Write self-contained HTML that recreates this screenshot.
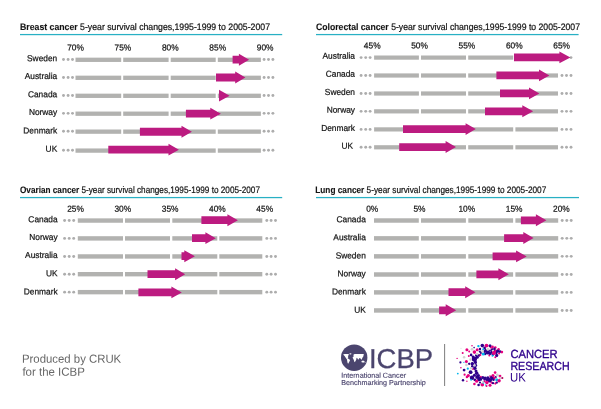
<!DOCTYPE html><html><head><meta charset="utf-8"><title>ICBP survival changes</title><style>html,body{margin:0;padding:0;background:#fff}body{width:601px;height:409px;overflow:hidden;font-family:"Liberation Sans",sans-serif}svg{display:block;will-change:transform;transform:translateZ(0)}</style></head><body><svg width="601" height="409" viewBox="0 0 601 409" font-family="Liberation Sans, sans-serif">
<rect width="601" height="409" fill="#fff"/>
<text transform="translate(20.00,29.60) rotate(0.03)" font-size="9.4" fill="#141414" textLength="250" lengthAdjust="spacingAndGlyphs"><tspan font-weight="bold" stroke="#141414" stroke-width="0.12">Breast cancer</tspan><tspan stroke="#141414" stroke-width="0.22"> 5-year survival changes,1995-1999 to 2005-2007</tspan></text>
<rect x="20" y="33.95" width="262.2" height="1.25" fill="#28b0c4"/>
<text transform="translate(75.50,50.60) rotate(0.03) scale(0.9543,1)" font-size="8.75" fill="#141414" text-anchor="middle" stroke="#141414" stroke-width="0.22">70%</text>
<text transform="translate(122.90,50.60) rotate(0.03) scale(0.9543,1)" font-size="8.75" fill="#141414" text-anchor="middle" stroke="#141414" stroke-width="0.22">75%</text>
<text transform="translate(170.30,50.60) rotate(0.03) scale(0.9543,1)" font-size="8.75" fill="#141414" text-anchor="middle" stroke="#141414" stroke-width="0.22">80%</text>
<text transform="translate(217.70,50.60) rotate(0.03) scale(0.9543,1)" font-size="8.75" fill="#141414" text-anchor="middle" stroke="#141414" stroke-width="0.22">85%</text>
<text transform="translate(265.10,50.60) rotate(0.03) scale(0.9543,1)" font-size="8.75" fill="#141414" text-anchor="middle" stroke="#141414" stroke-width="0.22">90%</text>
<text transform="translate(57.20,61.20) rotate(0.03) scale(0.9543,1)" font-size="8.75" fill="#141414" text-anchor="end" stroke="#141414" stroke-width="0.22">Sweden</text>
<rect x="75.5" y="57.65" width="45.70" height="4.3" fill="#b2b2b0"/>
<rect x="123.2" y="57.65" width="45.40" height="4.3" fill="#b2b2b0"/>
<rect x="170.7" y="57.65" width="45.00" height="4.3" fill="#b2b2b0"/>
<rect x="217.8" y="57.65" width="43.10" height="4.3" fill="#b2b2b0"/>
<circle cx="63.5" cy="59.45" r="1.45" fill="#adadad"/>
<circle cx="68.1" cy="59.45" r="1.45" fill="#adadad"/>
<circle cx="72.5" cy="59.45" r="1.45" fill="#adadad"/>
<circle cx="264.1" cy="59.45" r="1.45" fill="#adadad"/>
<circle cx="268.5" cy="59.45" r="1.45" fill="#adadad"/>
<circle cx="272.9" cy="59.45" r="1.45" fill="#adadad"/>
<path d="M232.6 55.80L238.9 55.80L238.9 53.75L249.1 59.7L238.9 65.65L238.9 63.60L232.6 63.60Z" fill="#bc1b80"/>
<text transform="translate(57.20,79.10) rotate(0.03) scale(0.9543,1)" font-size="8.75" fill="#141414" text-anchor="end" stroke="#141414" stroke-width="0.22">Australia</text>
<rect x="75.5" y="75.65" width="45.70" height="4.3" fill="#b2b2b0"/>
<rect x="123.2" y="75.65" width="45.40" height="4.3" fill="#b2b2b0"/>
<rect x="170.7" y="75.65" width="45.00" height="4.3" fill="#b2b2b0"/>
<rect x="217.8" y="75.65" width="43.10" height="4.3" fill="#b2b2b0"/>
<circle cx="63.5" cy="77.45" r="1.45" fill="#adadad"/>
<circle cx="68.1" cy="77.45" r="1.45" fill="#adadad"/>
<circle cx="72.5" cy="77.45" r="1.45" fill="#adadad"/>
<circle cx="264.1" cy="77.45" r="1.45" fill="#adadad"/>
<circle cx="268.5" cy="77.45" r="1.45" fill="#adadad"/>
<circle cx="272.9" cy="77.45" r="1.45" fill="#adadad"/>
<path d="M216 73.60L235.2 73.60L235.2 71.55L245.4 77.5L235.2 83.45L235.2 81.40L216 81.40Z" fill="#bc1b80"/>
<text transform="translate(57.20,97.30) rotate(0.03) scale(0.9543,1)" font-size="8.75" fill="#141414" text-anchor="end" stroke="#141414" stroke-width="0.22">Canada</text>
<rect x="75.5" y="93.65" width="45.70" height="4.3" fill="#b2b2b0"/>
<rect x="123.2" y="93.65" width="45.40" height="4.3" fill="#b2b2b0"/>
<rect x="170.7" y="93.65" width="45.00" height="4.3" fill="#b2b2b0"/>
<rect x="217.8" y="93.65" width="43.10" height="4.3" fill="#b2b2b0"/>
<circle cx="63.5" cy="95.45" r="1.45" fill="#adadad"/>
<circle cx="68.1" cy="95.45" r="1.45" fill="#adadad"/>
<circle cx="72.5" cy="95.45" r="1.45" fill="#adadad"/>
<circle cx="264.1" cy="95.45" r="1.45" fill="#adadad"/>
<circle cx="268.5" cy="95.45" r="1.45" fill="#adadad"/>
<circle cx="272.9" cy="95.45" r="1.45" fill="#adadad"/>
<path d="M219 91.75L219 91.75L219 89.70L229.6 95.65L219 101.60L219 99.55L219 99.55Z" fill="#bc1b80"/>
<text transform="translate(57.20,114.90) rotate(0.03) scale(0.9543,1)" font-size="8.75" fill="#141414" text-anchor="end" stroke="#141414" stroke-width="0.22">Norway</text>
<rect x="75.5" y="111.55" width="45.70" height="4.3" fill="#b2b2b0"/>
<rect x="123.2" y="111.55" width="45.40" height="4.3" fill="#b2b2b0"/>
<rect x="170.7" y="111.55" width="45.00" height="4.3" fill="#b2b2b0"/>
<rect x="217.8" y="111.55" width="43.10" height="4.3" fill="#b2b2b0"/>
<circle cx="63.5" cy="113.35" r="1.45" fill="#adadad"/>
<circle cx="68.1" cy="113.35" r="1.45" fill="#adadad"/>
<circle cx="72.5" cy="113.35" r="1.45" fill="#adadad"/>
<circle cx="264.1" cy="113.35" r="1.45" fill="#adadad"/>
<circle cx="268.5" cy="113.35" r="1.45" fill="#adadad"/>
<circle cx="272.9" cy="113.35" r="1.45" fill="#adadad"/>
<path d="M185.9 109.75L210.3 109.75L210.3 107.70L220.9 113.65L210.3 119.60L210.3 117.55L185.9 117.55Z" fill="#bc1b80"/>
<text transform="translate(57.20,133.50) rotate(0.03) scale(0.9543,1)" font-size="8.75" fill="#141414" text-anchor="end" stroke="#141414" stroke-width="0.22">Denmark</text>
<rect x="75.5" y="129.50" width="45.70" height="4.3" fill="#b2b2b0"/>
<rect x="123.2" y="129.50" width="45.40" height="4.3" fill="#b2b2b0"/>
<rect x="170.7" y="129.50" width="45.00" height="4.3" fill="#b2b2b0"/>
<rect x="217.8" y="129.50" width="43.10" height="4.3" fill="#b2b2b0"/>
<circle cx="63.5" cy="131.30" r="1.45" fill="#adadad"/>
<circle cx="68.1" cy="131.30" r="1.45" fill="#adadad"/>
<circle cx="72.5" cy="131.30" r="1.45" fill="#adadad"/>
<circle cx="264.1" cy="131.30" r="1.45" fill="#adadad"/>
<circle cx="268.5" cy="131.30" r="1.45" fill="#adadad"/>
<circle cx="272.9" cy="131.30" r="1.45" fill="#adadad"/>
<path d="M139.9 127.85L181.5 127.85L181.5 125.80L191.9 131.75L181.5 137.70L181.5 135.65L139.9 135.65Z" fill="#bc1b80"/>
<text transform="translate(57.20,151.65) rotate(0.03) scale(0.9543,1)" font-size="8.75" fill="#141414" text-anchor="end" stroke="#141414" stroke-width="0.22">UK</text>
<rect x="75.5" y="148.45" width="45.70" height="4.3" fill="#b2b2b0"/>
<rect x="123.2" y="148.45" width="45.40" height="4.3" fill="#b2b2b0"/>
<rect x="170.7" y="148.45" width="45.00" height="4.3" fill="#b2b2b0"/>
<rect x="217.8" y="148.45" width="43.10" height="4.3" fill="#b2b2b0"/>
<circle cx="63.5" cy="150.25" r="1.45" fill="#adadad"/>
<circle cx="68.1" cy="150.25" r="1.45" fill="#adadad"/>
<circle cx="72.5" cy="150.25" r="1.45" fill="#adadad"/>
<circle cx="264.1" cy="150.25" r="1.45" fill="#adadad"/>
<circle cx="268.5" cy="150.25" r="1.45" fill="#adadad"/>
<circle cx="272.9" cy="150.25" r="1.45" fill="#adadad"/>
<path d="M108.3 145.75L168.5 145.75L168.5 143.70L178.9 149.65L168.5 155.60L168.5 153.55L108.3 153.55Z" fill="#bc1b80"/>
<text transform="translate(316.00,29.60) rotate(0.03)" font-size="9.4" fill="#141414" textLength="264" lengthAdjust="spacingAndGlyphs"><tspan font-weight="bold" stroke="#141414" stroke-width="0.12">Colorectal cancer</tspan><tspan stroke="#141414" stroke-width="0.22"> 5-year survival changes,1995-1999 to 2005-2007</tspan></text>
<rect x="316" y="33.95" width="262.6" height="1.25" fill="#28b0c4"/>
<text transform="translate(372.20,48.50) rotate(0.03) scale(0.9543,1)" font-size="8.75" fill="#141414" text-anchor="middle" stroke="#141414" stroke-width="0.22">45%</text>
<text transform="translate(419.55,48.50) rotate(0.03) scale(0.9543,1)" font-size="8.75" fill="#141414" text-anchor="middle" stroke="#141414" stroke-width="0.22">50%</text>
<text transform="translate(466.90,48.50) rotate(0.03) scale(0.9543,1)" font-size="8.75" fill="#141414" text-anchor="middle" stroke="#141414" stroke-width="0.22">55%</text>
<text transform="translate(514.25,48.50) rotate(0.03) scale(0.9543,1)" font-size="8.75" fill="#141414" text-anchor="middle" stroke="#141414" stroke-width="0.22">60%</text>
<text transform="translate(561.60,48.50) rotate(0.03) scale(0.9543,1)" font-size="8.75" fill="#141414" text-anchor="middle" stroke="#141414" stroke-width="0.22">65%</text>
<text transform="translate(355.00,58.80) rotate(0.03) scale(0.9543,1)" font-size="8.75" fill="#141414" text-anchor="end" stroke="#141414" stroke-width="0.22">Australia</text>
<rect x="374.1" y="55.50" width="44.80" height="4.2" fill="#b2b2b0"/>
<rect x="421" y="55.50" width="45.00" height="4.2" fill="#b2b2b0"/>
<rect x="468.2" y="55.50" width="45.00" height="4.2" fill="#b2b2b0"/>
<rect x="515.4" y="55.50" width="42.60" height="4.2" fill="#b2b2b0"/>
<circle cx="361.1" cy="57.60" r="1.45" fill="#adadad"/>
<circle cx="365.7" cy="57.60" r="1.45" fill="#adadad"/>
<circle cx="370.1" cy="57.60" r="1.45" fill="#adadad"/>
<circle cx="562" cy="57.60" r="1.45" fill="#adadad"/>
<circle cx="566.5" cy="57.60" r="1.45" fill="#adadad"/>
<circle cx="571" cy="57.60" r="1.45" fill="#adadad"/>
<path d="M514 53.50L559.4 53.50L559.4 51.45L570.4 57.4L559.4 63.35L559.4 61.30L514 61.30Z" fill="#bc1b80"/>
<text transform="translate(355.00,76.70) rotate(0.03) scale(0.9543,1)" font-size="8.75" fill="#141414" text-anchor="end" stroke="#141414" stroke-width="0.22">Canada</text>
<rect x="374.1" y="73.40" width="44.80" height="4.2" fill="#b2b2b0"/>
<rect x="421" y="73.40" width="45.00" height="4.2" fill="#b2b2b0"/>
<rect x="468.2" y="73.40" width="45.00" height="4.2" fill="#b2b2b0"/>
<rect x="515.4" y="73.40" width="42.60" height="4.2" fill="#b2b2b0"/>
<circle cx="361.1" cy="75.50" r="1.45" fill="#adadad"/>
<circle cx="365.7" cy="75.50" r="1.45" fill="#adadad"/>
<circle cx="370.1" cy="75.50" r="1.45" fill="#adadad"/>
<circle cx="562" cy="75.50" r="1.45" fill="#adadad"/>
<circle cx="566.5" cy="75.50" r="1.45" fill="#adadad"/>
<circle cx="571" cy="75.50" r="1.45" fill="#adadad"/>
<path d="M496.4 71.50L539 71.50L539 69.45L549.4 75.4L539 81.35L539 79.30L496.4 79.30Z" fill="#bc1b80"/>
<text transform="translate(355.00,94.95) rotate(0.03) scale(0.9543,1)" font-size="8.75" fill="#141414" text-anchor="end" stroke="#141414" stroke-width="0.22">Sweden</text>
<rect x="374.1" y="91.40" width="44.80" height="4.2" fill="#b2b2b0"/>
<rect x="421" y="91.40" width="45.00" height="4.2" fill="#b2b2b0"/>
<rect x="468.2" y="91.40" width="45.00" height="4.2" fill="#b2b2b0"/>
<rect x="515.4" y="91.40" width="42.60" height="4.2" fill="#b2b2b0"/>
<circle cx="361.1" cy="93.50" r="1.45" fill="#adadad"/>
<circle cx="365.7" cy="93.50" r="1.45" fill="#adadad"/>
<circle cx="370.1" cy="93.50" r="1.45" fill="#adadad"/>
<circle cx="562" cy="93.50" r="1.45" fill="#adadad"/>
<circle cx="566.5" cy="93.50" r="1.45" fill="#adadad"/>
<circle cx="571" cy="93.50" r="1.45" fill="#adadad"/>
<path d="M500 89.50L529 89.50L529 87.45L539.4 93.4L529 99.35L529 97.30L500 97.30Z" fill="#bc1b80"/>
<text transform="translate(355.00,112.70) rotate(0.03) scale(0.9543,1)" font-size="8.75" fill="#141414" text-anchor="end" stroke="#141414" stroke-width="0.22">Norway</text>
<rect x="374.1" y="109.25" width="44.80" height="4.2" fill="#b2b2b0"/>
<rect x="421" y="109.25" width="45.00" height="4.2" fill="#b2b2b0"/>
<rect x="468.2" y="109.25" width="45.00" height="4.2" fill="#b2b2b0"/>
<rect x="515.4" y="109.25" width="42.60" height="4.2" fill="#b2b2b0"/>
<circle cx="361.1" cy="111.35" r="1.45" fill="#adadad"/>
<circle cx="365.7" cy="111.35" r="1.45" fill="#adadad"/>
<circle cx="370.1" cy="111.35" r="1.45" fill="#adadad"/>
<circle cx="562" cy="111.35" r="1.45" fill="#adadad"/>
<circle cx="566.5" cy="111.35" r="1.45" fill="#adadad"/>
<circle cx="571" cy="111.35" r="1.45" fill="#adadad"/>
<path d="M485 107.40L522.3 107.40L522.3 105.35L533.2 111.3L522.3 117.25L522.3 115.20L485 115.20Z" fill="#bc1b80"/>
<text transform="translate(355.00,130.95) rotate(0.03) scale(0.9543,1)" font-size="8.75" fill="#141414" text-anchor="end" stroke="#141414" stroke-width="0.22">Denmark</text>
<rect x="374.1" y="127.30" width="44.80" height="4.2" fill="#b2b2b0"/>
<rect x="421" y="127.30" width="45.00" height="4.2" fill="#b2b2b0"/>
<rect x="468.2" y="127.30" width="45.00" height="4.2" fill="#b2b2b0"/>
<rect x="515.4" y="127.30" width="42.60" height="4.2" fill="#b2b2b0"/>
<circle cx="361.1" cy="129.40" r="1.45" fill="#adadad"/>
<circle cx="365.7" cy="129.40" r="1.45" fill="#adadad"/>
<circle cx="370.1" cy="129.40" r="1.45" fill="#adadad"/>
<circle cx="562" cy="129.40" r="1.45" fill="#adadad"/>
<circle cx="566.5" cy="129.40" r="1.45" fill="#adadad"/>
<circle cx="571" cy="129.40" r="1.45" fill="#adadad"/>
<path d="M403 125.20L465.6 125.20L465.6 123.15L475.8 129.1L465.6 135.05L465.6 133.00L403 133.00Z" fill="#bc1b80"/>
<text transform="translate(353.00,148.70) rotate(0.03) scale(0.9543,1)" font-size="8.75" fill="#141414" text-anchor="end" stroke="#141414" stroke-width="0.22">UK</text>
<rect x="374.1" y="145.20" width="44.80" height="4.2" fill="#b2b2b0"/>
<rect x="421" y="145.20" width="45.00" height="4.2" fill="#b2b2b0"/>
<rect x="468.2" y="145.20" width="45.00" height="4.2" fill="#b2b2b0"/>
<rect x="515.4" y="145.20" width="42.60" height="4.2" fill="#b2b2b0"/>
<circle cx="361.1" cy="147.30" r="1.45" fill="#adadad"/>
<circle cx="365.7" cy="147.30" r="1.45" fill="#adadad"/>
<circle cx="370.1" cy="147.30" r="1.45" fill="#adadad"/>
<circle cx="562" cy="147.30" r="1.45" fill="#adadad"/>
<circle cx="566.5" cy="147.30" r="1.45" fill="#adadad"/>
<circle cx="571" cy="147.30" r="1.45" fill="#adadad"/>
<path d="M399.2 143.15L445.6 143.15L445.6 141.10L456.0 147.05L445.6 153.00L445.6 150.95L399.2 150.95Z" fill="#bc1b80"/>
<text transform="translate(20.00,192.55) rotate(0.03)" font-size="9.4" fill="#141414" textLength="240" lengthAdjust="spacingAndGlyphs"><tspan font-weight="bold" stroke="#141414" stroke-width="0.12">Ovarian cancer</tspan><tspan stroke="#141414" stroke-width="0.22"> 5-year survival changes,1995-1999 to 2005-2007</tspan></text>
<rect x="20" y="196.95" width="262.2" height="1.25" fill="#28b0c4"/>
<text transform="translate(75.50,211.70) rotate(0.03) scale(0.9543,1)" font-size="8.75" fill="#141414" text-anchor="middle" stroke="#141414" stroke-width="0.22">25%</text>
<text transform="translate(122.80,211.70) rotate(0.03) scale(0.9543,1)" font-size="8.75" fill="#141414" text-anchor="middle" stroke="#141414" stroke-width="0.22">30%</text>
<text transform="translate(170.10,211.70) rotate(0.03) scale(0.9543,1)" font-size="8.75" fill="#141414" text-anchor="middle" stroke="#141414" stroke-width="0.22">35%</text>
<text transform="translate(217.40,211.70) rotate(0.03) scale(0.9543,1)" font-size="8.75" fill="#141414" text-anchor="middle" stroke="#141414" stroke-width="0.22">40%</text>
<text transform="translate(264.70,211.70) rotate(0.03) scale(0.9543,1)" font-size="8.75" fill="#141414" text-anchor="middle" stroke="#141414" stroke-width="0.22">45%</text>
<text transform="translate(57.60,222.30) rotate(0.03) scale(0.9543,1)" font-size="8.75" fill="#141414" text-anchor="end" stroke="#141414" stroke-width="0.22">Canada</text>
<rect x="77.8" y="218.35" width="45.20" height="4.4" fill="#b2b2b0"/>
<rect x="125" y="218.35" width="45.00" height="4.4" fill="#b2b2b0"/>
<rect x="172.3" y="218.35" width="45.00" height="4.4" fill="#b2b2b0"/>
<rect x="219.3" y="218.35" width="43.00" height="4.4" fill="#b2b2b0"/>
<circle cx="64.6" cy="220.55" r="1.45" fill="#adadad"/>
<circle cx="69.2" cy="220.55" r="1.45" fill="#adadad"/>
<circle cx="73.7" cy="220.55" r="1.45" fill="#adadad"/>
<circle cx="266.8" cy="220.55" r="1.45" fill="#adadad"/>
<circle cx="271.1" cy="220.55" r="1.45" fill="#adadad"/>
<circle cx="275.5" cy="220.55" r="1.45" fill="#adadad"/>
<path d="M201.4 216.30L227.4 216.30L227.4 214.25L237.9 220.2L227.4 226.15L227.4 224.10L201.4 224.10Z" fill="#bc1b80"/>
<text transform="translate(57.60,239.90) rotate(0.03) scale(0.9543,1)" font-size="8.75" fill="#141414" text-anchor="end" stroke="#141414" stroke-width="0.22">Norway</text>
<rect x="77.8" y="236.20" width="45.20" height="4.4" fill="#b2b2b0"/>
<rect x="125" y="236.20" width="45.00" height="4.4" fill="#b2b2b0"/>
<rect x="172.3" y="236.20" width="45.00" height="4.4" fill="#b2b2b0"/>
<rect x="219.3" y="236.20" width="43.00" height="4.4" fill="#b2b2b0"/>
<circle cx="64.6" cy="238.40" r="1.45" fill="#adadad"/>
<circle cx="69.2" cy="238.40" r="1.45" fill="#adadad"/>
<circle cx="73.7" cy="238.40" r="1.45" fill="#adadad"/>
<circle cx="266.8" cy="238.40" r="1.45" fill="#adadad"/>
<circle cx="271.1" cy="238.40" r="1.45" fill="#adadad"/>
<circle cx="275.5" cy="238.40" r="1.45" fill="#adadad"/>
<path d="M192 234.25L205.4 234.25L205.4 232.20L215.8 238.15L205.4 244.10L205.4 242.05L192 242.05Z" fill="#bc1b80"/>
<text transform="translate(57.60,258.10) rotate(0.03) scale(0.9543,1)" font-size="8.75" fill="#141414" text-anchor="end" stroke="#141414" stroke-width="0.22">Australia</text>
<rect x="77.8" y="254.25" width="45.20" height="4.4" fill="#b2b2b0"/>
<rect x="125" y="254.25" width="45.00" height="4.4" fill="#b2b2b0"/>
<rect x="172.3" y="254.25" width="45.00" height="4.4" fill="#b2b2b0"/>
<rect x="219.3" y="254.25" width="43.00" height="4.4" fill="#b2b2b0"/>
<circle cx="64.6" cy="256.45" r="1.45" fill="#adadad"/>
<circle cx="69.2" cy="256.45" r="1.45" fill="#adadad"/>
<circle cx="73.7" cy="256.45" r="1.45" fill="#adadad"/>
<circle cx="266.8" cy="256.45" r="1.45" fill="#adadad"/>
<circle cx="271.1" cy="256.45" r="1.45" fill="#adadad"/>
<circle cx="275.5" cy="256.45" r="1.45" fill="#adadad"/>
<path d="M181.5 252.30L184.3 252.30L184.3 250.25L194.9 256.2L184.3 262.15L184.3 260.10L181.5 260.10Z" fill="#bc1b80"/>
<text transform="translate(57.60,276.30) rotate(0.03) scale(0.9543,1)" font-size="8.75" fill="#141414" text-anchor="end" stroke="#141414" stroke-width="0.22">UK</text>
<rect x="77.8" y="272.00" width="45.20" height="4.4" fill="#b2b2b0"/>
<rect x="125" y="272.00" width="45.00" height="4.4" fill="#b2b2b0"/>
<rect x="172.3" y="272.00" width="45.00" height="4.4" fill="#b2b2b0"/>
<rect x="219.3" y="272.00" width="43.00" height="4.4" fill="#b2b2b0"/>
<circle cx="64.6" cy="274.20" r="1.45" fill="#adadad"/>
<circle cx="69.2" cy="274.20" r="1.45" fill="#adadad"/>
<circle cx="73.7" cy="274.20" r="1.45" fill="#adadad"/>
<circle cx="266.8" cy="274.20" r="1.45" fill="#adadad"/>
<circle cx="271.1" cy="274.20" r="1.45" fill="#adadad"/>
<circle cx="275.5" cy="274.20" r="1.45" fill="#adadad"/>
<path d="M147.5 270.30L175.1 270.30L175.1 268.25L185.2 274.2L175.1 280.15L175.1 278.10L147.5 278.10Z" fill="#bc1b80"/>
<text transform="translate(57.60,294.60) rotate(0.03) scale(0.9543,1)" font-size="8.75" fill="#141414" text-anchor="end" stroke="#141414" stroke-width="0.22">Denmark</text>
<rect x="77.8" y="289.95" width="45.20" height="4.4" fill="#b2b2b0"/>
<rect x="125" y="289.95" width="45.00" height="4.4" fill="#b2b2b0"/>
<rect x="172.3" y="289.95" width="45.00" height="4.4" fill="#b2b2b0"/>
<rect x="219.3" y="289.95" width="43.00" height="4.4" fill="#b2b2b0"/>
<circle cx="64.6" cy="292.15" r="1.45" fill="#adadad"/>
<circle cx="69.2" cy="292.15" r="1.45" fill="#adadad"/>
<circle cx="73.7" cy="292.15" r="1.45" fill="#adadad"/>
<circle cx="266.8" cy="292.15" r="1.45" fill="#adadad"/>
<circle cx="271.1" cy="292.15" r="1.45" fill="#adadad"/>
<circle cx="275.5" cy="292.15" r="1.45" fill="#adadad"/>
<path d="M138.4 288.50L171.4 288.50L171.4 286.45L181.8 292.4L171.4 298.35L171.4 296.30L138.4 296.30Z" fill="#bc1b80"/>
<text transform="translate(315.30,192.55) rotate(0.03)" font-size="9.4" fill="#141414" textLength="231" lengthAdjust="spacingAndGlyphs"><tspan font-weight="bold" stroke="#141414" stroke-width="0.12">Lung cancer</tspan><tspan stroke="#141414" stroke-width="0.22"> 5-year survival changes,1995-1999 to 2005-2007</tspan></text>
<rect x="316" y="196.95" width="263.0" height="1.25" fill="#28b0c4"/>
<text transform="translate(372.20,211.65) rotate(0.03) scale(0.9543,1)" font-size="8.75" fill="#141414" text-anchor="middle" stroke="#141414" stroke-width="0.22">0%</text>
<text transform="translate(419.50,211.65) rotate(0.03) scale(0.9543,1)" font-size="8.75" fill="#141414" text-anchor="middle" stroke="#141414" stroke-width="0.22">5%</text>
<text transform="translate(466.80,211.65) rotate(0.03) scale(0.9543,1)" font-size="8.75" fill="#141414" text-anchor="middle" stroke="#141414" stroke-width="0.22">10%</text>
<text transform="translate(514.10,211.65) rotate(0.03) scale(0.9543,1)" font-size="8.75" fill="#141414" text-anchor="middle" stroke="#141414" stroke-width="0.22">15%</text>
<text transform="translate(561.40,211.65) rotate(0.03) scale(0.9543,1)" font-size="8.75" fill="#141414" text-anchor="middle" stroke="#141414" stroke-width="0.22">20%</text>
<text transform="translate(365.80,222.25) rotate(0.03) scale(0.9543,1)" font-size="8.75" fill="#141414" text-anchor="end" stroke="#141414" stroke-width="0.22">Canada</text>
<rect x="374" y="218.28" width="44.80" height="4.45" fill="#b2b2b0"/>
<rect x="421" y="218.28" width="44.90" height="4.45" fill="#b2b2b0"/>
<rect x="468.3" y="218.28" width="44.80" height="4.45" fill="#b2b2b0"/>
<rect x="515.4" y="218.28" width="42.80" height="4.45" fill="#b2b2b0"/>
<circle cx="562.2" cy="220.50" r="1.45" fill="#adadad"/>
<circle cx="566.8" cy="220.50" r="1.45" fill="#adadad"/>
<circle cx="571.2" cy="220.50" r="1.45" fill="#adadad"/>
<path d="M520.9 216.40L535.9 216.40L535.9 214.35L546.4 220.3L535.9 226.25L535.9 224.20L520.9 224.20Z" fill="#bc1b80"/>
<text transform="translate(365.80,240.30) rotate(0.03) scale(0.9543,1)" font-size="8.75" fill="#141414" text-anchor="end" stroke="#141414" stroke-width="0.22">Australia</text>
<rect x="374" y="236.12" width="44.80" height="4.45" fill="#b2b2b0"/>
<rect x="421" y="236.12" width="44.90" height="4.45" fill="#b2b2b0"/>
<rect x="468.3" y="236.12" width="44.80" height="4.45" fill="#b2b2b0"/>
<rect x="515.4" y="236.12" width="42.80" height="4.45" fill="#b2b2b0"/>
<circle cx="562.2" cy="238.35" r="1.45" fill="#adadad"/>
<circle cx="566.8" cy="238.35" r="1.45" fill="#adadad"/>
<circle cx="571.2" cy="238.35" r="1.45" fill="#adadad"/>
<path d="M504.1 234.15L523.3 234.15L523.3 232.10L533.6 238.05L523.3 244.00L523.3 241.95L504.1 241.95Z" fill="#bc1b80"/>
<text transform="translate(365.80,258.60) rotate(0.03) scale(0.9543,1)" font-size="8.75" fill="#141414" text-anchor="end" stroke="#141414" stroke-width="0.22">Sweden</text>
<rect x="374" y="254.13" width="44.80" height="4.45" fill="#b2b2b0"/>
<rect x="421" y="254.13" width="44.90" height="4.45" fill="#b2b2b0"/>
<rect x="468.3" y="254.13" width="44.80" height="4.45" fill="#b2b2b0"/>
<rect x="515.4" y="254.13" width="42.80" height="4.45" fill="#b2b2b0"/>
<circle cx="562.2" cy="256.35" r="1.45" fill="#adadad"/>
<circle cx="566.8" cy="256.35" r="1.45" fill="#adadad"/>
<circle cx="571.2" cy="256.35" r="1.45" fill="#adadad"/>
<path d="M492.6 252.50L516.1 252.50L516.1 250.45L526.7 256.4L516.1 262.35L516.1 260.30L492.6 260.30Z" fill="#bc1b80"/>
<text transform="translate(365.80,276.40) rotate(0.03) scale(0.9543,1)" font-size="8.75" fill="#141414" text-anchor="end" stroke="#141414" stroke-width="0.22">Norway</text>
<rect x="374" y="272.27" width="44.80" height="4.45" fill="#b2b2b0"/>
<rect x="421" y="272.27" width="44.90" height="4.45" fill="#b2b2b0"/>
<rect x="468.3" y="272.27" width="44.80" height="4.45" fill="#b2b2b0"/>
<rect x="515.4" y="272.27" width="42.80" height="4.45" fill="#b2b2b0"/>
<circle cx="562.2" cy="274.50" r="1.45" fill="#adadad"/>
<circle cx="566.8" cy="274.50" r="1.45" fill="#adadad"/>
<circle cx="571.2" cy="274.50" r="1.45" fill="#adadad"/>
<path d="M476.4 270.40L498.4 270.40L498.4 268.35L508.8 274.3L498.4 280.25L498.4 278.20L476.4 278.20Z" fill="#bc1b80"/>
<text transform="translate(365.80,294.45) rotate(0.03) scale(0.9543,1)" font-size="8.75" fill="#141414" text-anchor="end" stroke="#141414" stroke-width="0.22">Denmark</text>
<rect x="374" y="290.17" width="44.80" height="4.45" fill="#b2b2b0"/>
<rect x="421" y="290.17" width="44.90" height="4.45" fill="#b2b2b0"/>
<rect x="468.3" y="290.17" width="44.80" height="4.45" fill="#b2b2b0"/>
<rect x="515.4" y="290.17" width="42.80" height="4.45" fill="#b2b2b0"/>
<circle cx="562.2" cy="292.40" r="1.45" fill="#adadad"/>
<circle cx="566.8" cy="292.40" r="1.45" fill="#adadad"/>
<circle cx="571.2" cy="292.40" r="1.45" fill="#adadad"/>
<path d="M448.5 288.30L465.2 288.30L465.2 286.25L475.4 292.2L465.2 298.15L465.2 296.10L448.5 296.10Z" fill="#bc1b80"/>
<text transform="translate(365.80,312.65) rotate(0.03) scale(0.9543,1)" font-size="8.75" fill="#141414" text-anchor="end" stroke="#141414" stroke-width="0.22">UK</text>
<rect x="374" y="308.22" width="44.80" height="4.45" fill="#b2b2b0"/>
<rect x="421" y="308.22" width="44.90" height="4.45" fill="#b2b2b0"/>
<rect x="468.3" y="308.22" width="44.80" height="4.45" fill="#b2b2b0"/>
<rect x="515.4" y="308.22" width="42.80" height="4.45" fill="#b2b2b0"/>
<circle cx="562.2" cy="310.45" r="1.45" fill="#adadad"/>
<circle cx="566.8" cy="310.45" r="1.45" fill="#adadad"/>
<circle cx="571.2" cy="310.45" r="1.45" fill="#adadad"/>
<path d="M439.1 306.40L445.7 306.40L445.7 304.35L456.2 310.3L445.7 316.25L445.7 314.20L439.1 314.20Z" fill="#bc1b80"/>
<text transform="translate(22.00,362.70) rotate(0.03)" font-size="11.7" fill="#676767" textLength="99.2" lengthAdjust="spacingAndGlyphs">Produced by CRUK</text>
<text transform="translate(22.40,375.70) rotate(0.03)" font-size="11.7" fill="#676767" textLength="62.4" lengthAdjust="spacingAndGlyphs">for the ICBP</text>
<circle cx="354.2" cy="357.7" r="13.2" fill="#4b456e"/>
<g fill="#fff"><path d="M343.2 354.3 L345 353.9 L348.8 353.9 L348.6 355 L348.0 356.2 L348.3 357.2 L347.6 358.2 L348.4 358.8 L349.6 359.4 L350 360.4 L349.4 361.6 L348.6 363 L348.2 363.8 L347.6 363 L347.2 361 L347 359.6 L346.2 358.4 L345.4 357.2 L344.6 356 L343.8 355.2 Z"/><ellipse cx="350.4" cy="353.8" rx="1.1" ry="0.6"/><path d="M353.4 354.8 L354.6 354.1 L357 353.9 L360 353.9 L363.8 353.9 L363.6 355.2 L363.2 356.8 L362.4 357.8 L361.8 359.4 L361.2 359.6 L360.6 358.4 L359.4 358 L358.6 359.4 L358.0 359.6 L357.4 358.2 L356.6 357.8 L356.4 358.6 L356.2 359.8 L355.4 361.2 L354.8 362.2 L354.2 361.4 L353.8 360 L353.2 358.8 L352.6 357.8 L353 356.8 L354 356.2 L353.4 355.6 Z"/><path d="M361.4 361.2 L363 360.6 L364.6 361.2 L364.4 362.4 L362.6 362.6 L361.6 362.2 Z"/><circle cx="365.2" cy="362.3" r="0.4"/></g>
<text transform="translate(369.00,367.90) rotate(0.03)" font-size="27.4" fill="#4b456e" textLength="64" lengthAdjust="spacingAndGlyphs" stroke="#4b456e" stroke-width="0.3">ICBP</text>
<text transform="translate(341.20,377.70) rotate(0.03)" font-size="7.2" fill="#4b456e" textLength="64.9" lengthAdjust="spacingAndGlyphs" stroke="#4b456e" stroke-width="0.15">International Cancer</text>
<text transform="translate(341.20,384.90) rotate(0.03)" font-size="7.2" fill="#4b456e" textLength="84.6" lengthAdjust="spacingAndGlyphs" stroke="#4b456e" stroke-width="0.15">Benchmarking Partnership</text>
<rect x="444.2" y="344" width="0.9" height="42" fill="#6f6f6f"/>
<circle cx="488.8" cy="353.0" r="1.40" fill="#2e008b"/>
<circle cx="491.6" cy="352.1" r="1.40" fill="#2e008b"/>
<circle cx="494.4" cy="351.2" r="1.30" fill="#2e008b"/>
<circle cx="484.6" cy="351.6" r="1.30" fill="#2e008b"/>
<circle cx="475.3" cy="361.9" r="1.40" fill="#2e008b"/>
<circle cx="484.6" cy="347.9" r="1.40" fill="#2e008b"/>
<circle cx="485.6" cy="350.3" r="1.50" fill="#2e008b"/>
<circle cx="488.8" cy="350.7" r="1.30" fill="#2e008b"/>
<circle cx="491.6" cy="350.3" r="1.40" fill="#2e008b"/>
<circle cx="493.0" cy="350.7" r="1.20" fill="#d0d3d0"/>
<circle cx="495.8" cy="350.7" r="1.30" fill="#e6007e"/>
<circle cx="492.1" cy="348.9" r="1.00" fill="#2e008b"/>
<circle cx="480.0" cy="348.9" r="1.20" fill="#2e008b"/>
<circle cx="480.0" cy="351.6" r="1.20" fill="#2e008b"/>
<circle cx="485.1" cy="354.0" r="1.20" fill="#2e008b"/>
<circle cx="490.7" cy="347.5" r="1.00" fill="#e6007e"/>
<circle cx="496.3" cy="353.0" r="1.20" fill="#2e008b"/>
<circle cx="499.1" cy="353.5" r="1.10" fill="#e6007e"/>
<circle cx="493.0" cy="354.4" r="1.30" fill="#2e008b"/>
<circle cx="489.3" cy="355.4" r="1.00" fill="#e6007e"/>
<circle cx="476.2" cy="355.4" r="1.20" fill="#2e008b"/>
<circle cx="473.0" cy="356.8" r="1.40" fill="#2e008b"/>
<circle cx="475.5" cy="362.6" r="1.50" fill="#2e008b"/>
<circle cx="475.8" cy="365.5" r="1.40" fill="#2e008b"/>
<circle cx="476.0" cy="371.0" r="1.50" fill="#2e008b"/>
<circle cx="478.5" cy="375.5" r="1.50" fill="#2e008b"/>
<circle cx="480.9" cy="379.4" r="1.30" fill="#2e008b"/>
<circle cx="486.9" cy="379.8" r="1.40" fill="#2e008b"/>
<circle cx="491.6" cy="378.9" r="1.30" fill="#2e008b"/>
<circle cx="472.5" cy="363.5" r="1.50" fill="#2e008b"/>
<circle cx="469.2" cy="363.8" r="1.00" fill="#2e008b"/>
<circle cx="472.3" cy="366.3" r="1.30" fill="#2e008b"/>
<circle cx="474.8" cy="365.4" r="1.10" fill="#d0d3d0"/>
<circle cx="474.4" cy="375.2" r="1.50" fill="#2e008b"/>
<circle cx="480.0" cy="378.0" r="1.40" fill="#2e008b"/>
<circle cx="474.8" cy="379.8" r="1.40" fill="#2e008b"/>
<circle cx="493.0" cy="378.0" r="1.20" fill="#2e008b"/>
<circle cx="495.8" cy="377.0" r="1.10" fill="#2e008b"/>
<circle cx="491.6" cy="382.6" r="1.20" fill="#e6007e"/>
<circle cx="480.0" cy="382.6" r="1.10" fill="#2e008b"/>
<circle cx="482.3" cy="345.6" r="1.80" fill="#2e008b"/>
<circle cx="486.5" cy="345.6" r="1.90" fill="#e6007e"/>
<circle cx="490.0" cy="345.8" r="1.50" fill="#2e008b"/>
<circle cx="478.4" cy="346.1" r="1.20" fill="#00b6ed"/>
<circle cx="492.5" cy="347.0" r="1.40" fill="#e6007e"/>
<circle cx="495.3" cy="347.5" r="1.30" fill="#e6007e"/>
<circle cx="494.4" cy="348.9" r="1.30" fill="#2e008b"/>
<circle cx="498.6" cy="349.3" r="1.20" fill="#e6007e"/>
<circle cx="497.7" cy="351.2" r="1.60" fill="#2e008b"/>
<circle cx="500.0" cy="351.6" r="1.40" fill="#2e008b"/>
<circle cx="501.9" cy="352.1" r="1.30" fill="#e6007e"/>
<circle cx="493.9" cy="353.0" r="2.00" fill="#e6007e"/>
<circle cx="496.7" cy="355.4" r="1.60" fill="#2e008b"/>
<circle cx="495.3" cy="357.2" r="1.00" fill="#e6007e"/>
<circle cx="492.5" cy="355.8" r="1.00" fill="#00b6ed"/>
<circle cx="487.4" cy="352.6" r="2.00" fill="#2e008b"/>
<circle cx="490.2" cy="353.5" r="1.50" fill="#2e008b"/>
<circle cx="483.2" cy="354.0" r="1.60" fill="#00b6ed"/>
<circle cx="483.2" cy="349.3" r="1.00" fill="#00b6ed"/>
<circle cx="487.9" cy="349.3" r="1.50" fill="#d0d3d0"/>
<circle cx="482.3" cy="351.6" r="1.50" fill="#d0d3d0"/>
<circle cx="474.4" cy="352.1" r="1.80" fill="#e6007e"/>
<circle cx="477.2" cy="349.8" r="1.50" fill="#e6007e"/>
<circle cx="472.0" cy="349.3" r="1.40" fill="#d0d3d0"/>
<circle cx="474.1" cy="347.6" r="0.80" fill="#2e008b"/>
<circle cx="472.0" cy="345.8" r="0.80" fill="#e6007e"/>
<circle cx="466.9" cy="349.8" r="1.50" fill="#e6007e"/>
<circle cx="469.2" cy="351.6" r="1.00" fill="#e6007e"/>
<circle cx="462.7" cy="352.9" r="1.00" fill="#e6007e"/>
<circle cx="461.0" cy="348.2" r="0.50" fill="#d0d3d0"/>
<circle cx="471.1" cy="354.9" r="1.30" fill="#2e008b"/>
<circle cx="468.8" cy="356.0" r="1.00" fill="#e6007e"/>
<circle cx="464.1" cy="357.2" r="1.20" fill="#d0d3d0"/>
<circle cx="474.4" cy="359.1" r="2.60" fill="#2e008b"/>
<circle cx="477.2" cy="357.2" r="1.60" fill="#2e008b"/>
<circle cx="479.0" cy="355.4" r="1.30" fill="#2e008b"/>
<circle cx="480.4" cy="354.9" r="1.00" fill="#e6007e"/>
<circle cx="480.9" cy="353.0" r="1.00" fill="#2e008b"/>
<circle cx="477.2" cy="354.0" r="1.30" fill="#d0d3d0"/>
<circle cx="470.6" cy="359.6" r="1.30" fill="#d0d3d0"/>
<circle cx="466.4" cy="361.6" r="1.50" fill="#e6007e"/>
<circle cx="460.4" cy="362.4" r="1.10" fill="#2e008b"/>
<circle cx="463.9" cy="362.4" r="0.60" fill="#00b6ed"/>
<circle cx="457.1" cy="358.4" r="0.70" fill="#e6007e"/>
<circle cx="472.0" cy="363.8" r="1.50" fill="#2e008b"/>
<circle cx="469.2" cy="363.8" r="1.00" fill="#2e008b"/>
<circle cx="466.4" cy="364.9" r="1.30" fill="#d0d3d0"/>
<circle cx="460.9" cy="367.7" r="0.80" fill="#e6007e"/>
<circle cx="467.8" cy="368.7" r="1.10" fill="#00b6ed"/>
<circle cx="464.1" cy="370.1" r="1.40" fill="#2e008b"/>
<circle cx="474.8" cy="368.2" r="1.80" fill="#2e008b"/>
<circle cx="471.1" cy="368.2" r="1.20" fill="#d0d3d0"/>
<circle cx="473.0" cy="369.1" r="0.90" fill="#e6007e"/>
<circle cx="470.6" cy="372.2" r="1.90" fill="#2e008b"/>
<circle cx="457.8" cy="373.6" r="0.90" fill="#00b6ed"/>
<circle cx="464.6" cy="374.7" r="1.10" fill="#e6007e"/>
<circle cx="468.3" cy="375.6" r="1.60" fill="#e6007e"/>
<circle cx="466.9" cy="377.0" r="1.20" fill="#e6007e"/>
<circle cx="476.7" cy="373.3" r="1.80" fill="#2e008b"/>
<circle cx="472.0" cy="377.8" r="2.20" fill="#2e008b"/>
<circle cx="477.2" cy="377.0" r="2.00" fill="#2e008b"/>
<circle cx="479.0" cy="379.4" r="1.80" fill="#2e008b"/>
<circle cx="463.0" cy="380.3" r="1.20" fill="#2e008b"/>
<circle cx="466.9" cy="381.2" r="0.70" fill="#e6007e"/>
<circle cx="471.1" cy="379.8" r="0.90" fill="#00b6ed"/>
<circle cx="476.7" cy="381.2" r="1.60" fill="#e6007e"/>
<circle cx="474.4" cy="384.0" r="1.30" fill="#e6007e"/>
<circle cx="478.6" cy="385.0" r="1.30" fill="#2e008b"/>
<circle cx="482.3" cy="384.7" r="1.80" fill="#e6007e"/>
<circle cx="483.2" cy="382.6" r="1.20" fill="#00b6ed"/>
<circle cx="482.8" cy="377.5" r="1.60" fill="#2e008b"/>
<circle cx="485.1" cy="378.0" r="1.60" fill="#2e008b"/>
<circle cx="487.9" cy="378.0" r="1.80" fill="#2e008b"/>
<circle cx="480.9" cy="376.6" r="0.90" fill="#e6007e"/>
<circle cx="489.7" cy="380.3" r="2.20" fill="#2e008b"/>
<circle cx="486.9" cy="382.6" r="1.80" fill="#e6007e"/>
<circle cx="486.5" cy="385.9" r="1.00" fill="#e6007e"/>
<circle cx="490.0" cy="385.2" r="1.50" fill="#e6007e"/>
<circle cx="485.6" cy="385.0" r="0.70" fill="#00b6ed"/>
<circle cx="493.0" cy="383.1" r="1.20" fill="#2e008b"/>
<circle cx="491.1" cy="377.0" r="1.20" fill="#2e008b"/>
<circle cx="490.0" cy="376.1" r="0.80" fill="#e6007e"/>
<circle cx="493.0" cy="375.6" r="1.60" fill="#e6007e"/>
<circle cx="495.1" cy="372.6" r="1.30" fill="#e6007e"/>
<circle cx="494.4" cy="378.0" r="1.30" fill="#e6007e"/>
<circle cx="497.2" cy="375.0" r="1.60" fill="#d0d3d0"/>
<circle cx="500.0" cy="376.1" r="1.40" fill="#e6007e"/>
<circle cx="500.0" cy="378.0" r="1.30" fill="#d0d3d0"/>
<circle cx="502.3" cy="378.0" r="1.10" fill="#b0005f"/>
<circle cx="496.7" cy="379.8" r="1.50" fill="#00b6ed"/>
<circle cx="499.1" cy="380.8" r="1.70" fill="#e6007e"/>
<circle cx="496.7" cy="382.6" r="1.20" fill="#2e008b"/>
<circle cx="495.3" cy="383.6" r="1.10" fill="#e6007e"/>
<circle cx="493.5" cy="379.8" r="1.30" fill="#2e008b"/>
<circle cx="482.8" cy="382.2" r="1.00" fill="#d0d3d0"/>
<circle cx="484.6" cy="379.4" r="1.30" fill="#2e008b"/>
<circle cx="484.6" cy="381.2" r="1.00" fill="#e6007e"/>
<text transform="translate(510.40,358.00) rotate(0.03)" font-size="11.8" fill="#2e008b" textLength="47.2" lengthAdjust="spacingAndGlyphs" stroke="#2e008b" stroke-width="0.32">CANCER</text>
<text transform="translate(510.40,370.00) rotate(0.03)" font-size="11.8" fill="#2e008b" textLength="59.2" lengthAdjust="spacingAndGlyphs" stroke="#2e008b" stroke-width="0.32">RESEARCH</text>
<text transform="translate(510.00,381.60) rotate(0.03)" font-size="12.2" fill="#2e008b" textLength="15.8" lengthAdjust="spacingAndGlyphs">UK</text>
</svg></body></html>
